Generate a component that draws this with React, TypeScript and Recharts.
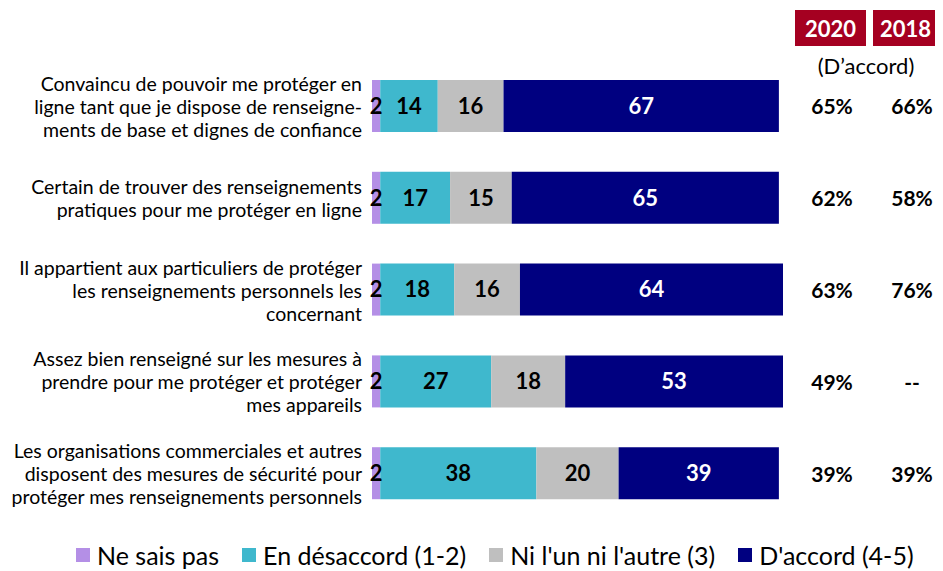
import { BarChart, Bar, XAxis, YAxis, Legend, LabelList } from "recharts";

const categories = [
  "Convaincu de pouvoir me protéger en|ligne tant que je dispose de renseigne-|ments de base et dignes de confiance",
  "Certain de trouver des renseignements|pratiques pour me protéger en ligne",
  "Il appartient aux particuliers de protéger|les renseignements personnels les|concernant",
  "Assez bien renseigné sur les mesures à|prendre pour me protéger et protéger|mes appareils",
  "Les organisations commerciales et autres|disposent des mesures de sécurité pour|protéger mes renseignements personnels",
];
const neSaisPas = [2, 2, 2, 2, 2];
const desaccord = [14, 17, 18, 27, 38];
const niLunNiLautre = [16, 15, 16, 18, 20];
const daccord = [67, 65, 64, 53, 39];
const accord2020 = ["65%", "62%", "63%", "49%", "39%"];
const accord2018 = ["66%", "58%", "76%", "--", "39%"];

const data = categories.map((name, i) => ({
  name,
  nsp: neSaisPas[i],
  des: desaccord[i],
  ni: niLunNiLautre[i],
  acc: daccord[i],
  y2020: accord2020[i],
  y2018: accord2018[i],
}));

const FONT = "Lato, 'Open Sans', sans-serif";
const C_NSP = "#b48fe6";
const C_DES = "#3fb8cd";
const C_NI = "#bfbfbf";
const C_ACC = "#000080";
const RED = "#a50021";

const CategoryTick = (props: any) => {
  const { y, payload, index } = props;
  const lines: string[] = String(payload.value).split("|");
  const lh = 23;
  const start = y - ((lines.length - 1) * lh) / 2;
  return (
    <g>
      <text x={354} y={start} textAnchor="end" dominantBaseline="central" fontSize={19.5} fill="#000" fontFamily={FONT}>
        {lines.map((l, k) => (
          <tspan key={k} x={354} y={start + k * lh}>
            {l}
          </tspan>
        ))}
      </text>
      <text x={824} y={y} textAnchor="middle" dominantBaseline="central" fontSize={21} fontWeight="bold" fill="#000" fontFamily={FONT}>
        {data[index].y2020}
      </text>
      <text x={904} y={y} textAnchor="middle" dominantBaseline="central" fontSize={21} fontWeight="bold" fill="#000" fontFamily={FONT}>
        {data[index].y2018}
      </text>
    </g>
  );
};

const legendItems = [
  { label: "Ne sais pas", color: C_NSP },
  { label: "En désaccord (1-2)", color: C_DES },
  { label: "Ni l'un ni l'autre (3)", color: C_NI },
  { label: "D'accord (4-5)", color: C_ACC },
];

const LegendContent = () => (
  <div style={{ display: "flex", gap: 23, fontFamily: FONT, fontSize: 25, color: "#000", alignItems: "center", whiteSpace: "nowrap" }}>
    {legendItems.map((it) => (
      <div key={it.label} style={{ display: "flex", alignItems: "center", gap: 7 }}>
        <span style={{ width: 14, height: 14, background: it.color, display: "inline-block" }} />
        <span>{it.label}</span>
      </div>
    ))}
  </div>
);

const labelStyle = { fontFamily: FONT, fontSize: 22, fontWeight: "bold" as const };

export default function App() {
  return (
    <div style={{ position: "relative", width: 927, height: 563 }}>
      <BarChart
        width={927}
        height={563}
        data={data}
        layout="vertical"
        margin={{ top: 52, right: 152, left: 0, bottom: 22 }}
      >
        <XAxis type="number" domain={[0, 100]} hide />
        <YAxis
          type="category"
          dataKey="name"
          width={364}
          axisLine={false}
          tickLine={false}
          tick={<CategoryTick />}
          interval={0}
        />
        <Legend
          content={<LegendContent />}
          wrapperStyle={{ position: "absolute", left: 68, top: 532, width: 880 }}
        />
        <Bar dataKey="nsp" stackId="a" fill={C_NSP} barSize={52} isAnimationActive={false}>
          <LabelList dataKey="nsp" position="center" fill="#000" style={labelStyle} />
        </Bar>
        <Bar dataKey="des" stackId="a" fill={C_DES} barSize={52} isAnimationActive={false}>
          <LabelList dataKey="des" position="center" fill="#000" style={labelStyle} />
        </Bar>
        <Bar dataKey="ni" stackId="a" fill={C_NI} barSize={52} isAnimationActive={false}>
          <LabelList dataKey="ni" position="center" fill="#000" style={labelStyle} />
        </Bar>
        <Bar dataKey="acc" stackId="a" fill={C_ACC} barSize={52} isAnimationActive={false}>
          <LabelList dataKey="acc" position="center" fill="#fff" style={labelStyle} />
        </Bar>
      </BarChart>
      <div style={{ position: "absolute", left: 787, top: 2, width: 71, height: 36, background: RED, color: "#fff", fontFamily: FONT, fontWeight: "bold", fontSize: 22, display: "flex", alignItems: "center", justifyContent: "center" }}>
        2020
      </div>
      <div style={{ position: "absolute", left: 865, top: 2, width: 65, height: 36, background: RED, color: "#fff", fontFamily: FONT, fontWeight: "bold", fontSize: 22, display: "flex", alignItems: "center", justifyContent: "center" }}>
        2018
      </div>
      <div style={{ position: "absolute", left: 798, top: 44, width: 120, textAlign: "center", fontFamily: FONT, fontSize: 22, color: "#000" }}>
        (D’accord)
      </div>
    </div>
  );
}
